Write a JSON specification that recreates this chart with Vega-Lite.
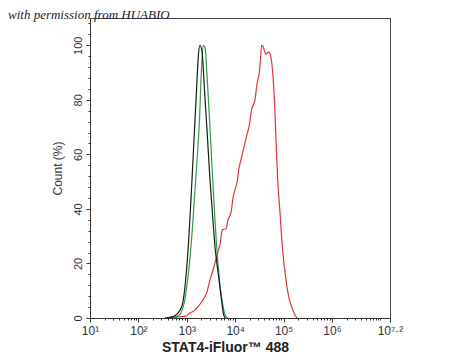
{
  "$schema": "https://vega.github.io/schema/vega-lite/v6.json",
  "width": 300,
  "height": 300,
  "autosize": "none",
  "padding": {"left": 90, "top": 18, "right": 60, "bottom": 42},
  "background": "white",
  "config": {
    "view": {"stroke": "#444", "strokeWidth": 1},
    "font": "Liberation Sans"
  },
  "title": {
    "text": "with permission from HUABIO",
    "anchor": "start",
    "frame": "group",
    "orient": "top",
    "offset": 0,
    "dx": -82,
    "dy": 14,
    "baseline": "alphabetic",
    "font": "Liberation Serif",
    "fontStyle": "italic",
    "fontWeight": "normal",
    "fontSize": 13,
    "color": "#1a1a3a"
  },
  "data": {
    "values": [
      {"s": "STAT4", "x": 450, "y": 0},
      {"s": "STAT4", "x": 659, "y": 0.4},
      {"s": "STAT4", "x": 964, "y": 0.7},
      {"s": "STAT4", "x": 1167, "y": 1.8},
      {"s": "STAT4", "x": 1479, "y": 2.9},
      {"s": "STAT4", "x": 1706, "y": 4.15},
      {"s": "STAT4", "x": 2163, "y": 6.6},
      {"s": "STAT4", "x": 2616, "y": 9.6},
      {"s": "STAT4", "x": 3020, "y": 14.0},
      {"s": "STAT4", "x": 3483, "y": 17.6},
      {"s": "STAT4", "x": 3833, "y": 20.2},
      {"s": "STAT4", "x": 4419, "y": 24.3},
      {"s": "STAT4", "x": 4861, "y": 27.0},
      {"s": "STAT4", "x": 5466, "y": 32.4},
      {"s": "STAT4", "x": 6457, "y": 32.7},
      {"s": "STAT4", "x": 7107, "y": 36.0},
      {"s": "STAT4", "x": 8204, "y": 38.6},
      {"s": "STAT4", "x": 9150, "y": 44.6},
      {"s": "STAT4", "x": 9925, "y": 47.1},
      {"s": "STAT4", "x": 11170, "y": 50.7},
      {"s": "STAT4", "x": 11610, "y": 53.3},
      {"s": "STAT4", "x": 13210, "y": 58.1},
      {"s": "STAT4", "x": 14850, "y": 61.8},
      {"s": "STAT4", "x": 17140, "y": 66.5},
      {"s": "STAT4", "x": 19770, "y": 71.0},
      {"s": "STAT4", "x": 21970, "y": 76.5},
      {"s": "STAT4", "x": 25720, "y": 80.1},
      {"s": "STAT4", "x": 28260, "y": 85.7},
      {"s": "STAT4", "x": 31540, "y": 90.1},
      {"s": "STAT4", "x": 33360, "y": 94.9},
      {"s": "STAT4", "x": 35320, "y": 100},
      {"s": "STAT4", "x": 37580, "y": 99.6},
      {"s": "STAT4", "x": 41320, "y": 97.4},
      {"s": "STAT4", "x": 43340, "y": 96.7},
      {"s": "STAT4", "x": 47660, "y": 97.4},
      {"s": "STAT4", "x": 50700, "y": 97.5},
      {"s": "STAT4", "x": 53700, "y": 96.3},
      {"s": "STAT4", "x": 59650, "y": 90.1},
      {"s": "STAT4", "x": 65640, "y": 77.7},
      {"s": "STAT4", "x": 69870, "y": 65.4},
      {"s": "STAT4", "x": 75740, "y": 50.7},
      {"s": "STAT4", "x": 84510, "y": 38.6},
      {"s": "STAT4", "x": 94250, "y": 26.2},
      {"s": "STAT4", "x": 112300, "y": 14.0},
      {"s": "STAT4", "x": 129400, "y": 7.4},
      {"s": "STAT4", "x": 147100, "y": 4.15},
      {"s": "STAT4", "x": 172100, "y": 1.1},
      {"s": "STAT4", "x": 192200, "y": 0},
      {"s": "Isotype", "x": 450, "y": 0},
      {"s": "Isotype", "x": 659, "y": 0.7},
      {"s": "Isotype", "x": 847, "y": 4.15},
      {"s": "Isotype", "x": 1011, "y": 12.1},
      {"s": "Isotype", "x": 1222, "y": 26.2},
      {"s": "Isotype", "x": 1528, "y": 50.7},
      {"s": "Isotype", "x": 1832, "y": 72.8},
      {"s": "Isotype", "x": 2015, "y": 91.2},
      {"s": "Isotype", "x": 2195, "y": 100},
      {"s": "Isotype", "x": 2377, "y": 99.3},
      {"s": "Isotype", "x": 2616, "y": 89.3},
      {"s": "Isotype", "x": 2951, "y": 72.8},
      {"s": "Isotype", "x": 3437, "y": 50.7},
      {"s": "Isotype", "x": 4152, "y": 26.2},
      {"s": "Isotype", "x": 4856, "y": 12.1},
      {"s": "Isotype", "x": 5608, "y": 4.4},
      {"s": "Isotype", "x": 6457, "y": 0.5},
      {"s": "Isotype", "x": 7107, "y": 0},
      {"s": "Control", "x": 355, "y": 0},
      {"s": "Control", "x": 519, "y": 0.5},
      {"s": "Control", "x": 785, "y": 4.15},
      {"s": "Control", "x": 1074, "y": 26.2},
      {"s": "Control", "x": 1282, "y": 50.7},
      {"s": "Control", "x": 1604, "y": 85.0},
      {"s": "Control", "x": 1746, "y": 96.7},
      {"s": "Control", "x": 1875, "y": 100},
      {"s": "Control", "x": 2061, "y": 97.8},
      {"s": "Control", "x": 2300, "y": 85.0},
      {"s": "Control", "x": 2616, "y": 69.1},
      {"s": "Control", "x": 3020, "y": 50.7},
      {"s": "Control", "x": 3403, "y": 37.9},
      {"s": "Control", "x": 3833, "y": 26.2},
      {"s": "Control", "x": 4636, "y": 14.0},
      {"s": "Control", "x": 5221, "y": 6.6},
      {"s": "Control", "x": 5689, "y": 1.8},
      {"s": "Control", "x": 6166, "y": 0}
    ]
  },
  "mark": {"type": "line", "interpolate": "monotone", "strokeWidth": 1.2, "clip": true},
  "encoding": {
    "x": {
      "field": "x",
      "type": "quantitative",
      "scale": {"type": "log", "domain": [10, 15848931.92], "nice": false, "zero": false},
      "axis": {
        "title": "STAT4-iFluor™ 488",
        "titleFont": "Liberation Sans",
        "titleFontWeight": "bold",
        "titleFontSize": 14,
        "titleColor": "#222",
        "titleX": 135,
        "titleAnchor": "middle",
        "titlePadding": 4,
        "grid": false,
        "domainColor": "#333",
        "tickColor": "#333",
        "labelColor": "#333",
        "labelFontSize": 12,
        "labelPadding": 3,
        "labelFlush": false,
        "labelOverlap": false,
        "values": [10, 20, 30, 40, 50, 60, 70, 80, 90, 100, 200, 300, 400, 500, 600, 700, 800, 900, 1000, 2000, 3000, 4000, 5000, 6000, 7000, 8000, 9000, 10000, 20000, 30000, 40000, 50000, 60000, 70000, 80000, 90000, 100000, 200000, 300000, 400000, 500000, 600000, 700000, 800000, 900000, 1000000, 2000000, 3000000, 4000000, 5000000, 6000000, 7000000, 8000000, 9000000, 10000000, 15848931.92],
        "labelExpr": "datum.value == 10 ? '10¹' : datum.value == 100 ? '10²' : datum.value == 1000 ? '10³' : datum.value == 10000 ? '10⁴' : datum.value == 100000 ? '10⁵' : datum.value == 1000000 ? '10⁶' : datum.value > 15000000 ? '10⁷·²' : ''",
        "tickSize": {"condition": {"test": "indexof([10,100,1000,10000,100000,1000000], datum.value) >= 0 || datum.value > 15000000", "value": 4}, "value": 2}
      }
    },
    "y": {
      "field": "y",
      "type": "quantitative",
      "scale": {"domain": [0, 110], "nice": false},
      "axis": {
        "title": "Count  (%)",
        "titleFont": "Liberation Sans",
        "titleFontWeight": "normal",
        "titleFontSize": 12,
        "titleColor": "#333",
        "titlePadding": 8,
        "grid": false,
        "domainColor": "#333",
        "tickColor": "#333",
        "labelColor": "#333",
        "labelFontSize": 11,
        "labelAngle": -90,
        "labelAlign": "center",
        "labelBaseline": "bottom",
        "labelPadding": 3,
        "values": [0, 4, 8, 12, 16, 20, 24, 28, 32, 36, 40, 44, 48, 52, 56, 60, 64, 68, 72, 76, 80, 84, 88, 92, 96, 100, 104, 108],
        "labelExpr": "datum.value % 20 == 0 ? datum.label : ''",
        "tickSize": {"condition": {"test": "datum.value % 20 == 0", "value": 4}, "value": 2}
      }
    },
    "color": {
      "field": "s",
      "type": "nominal",
      "scale": {"domain": ["STAT4", "Isotype", "Control"], "range": ["#e2333d", "#2f9a45", "#1a1a1a"]},
      "legend": null
    }
  }
}
